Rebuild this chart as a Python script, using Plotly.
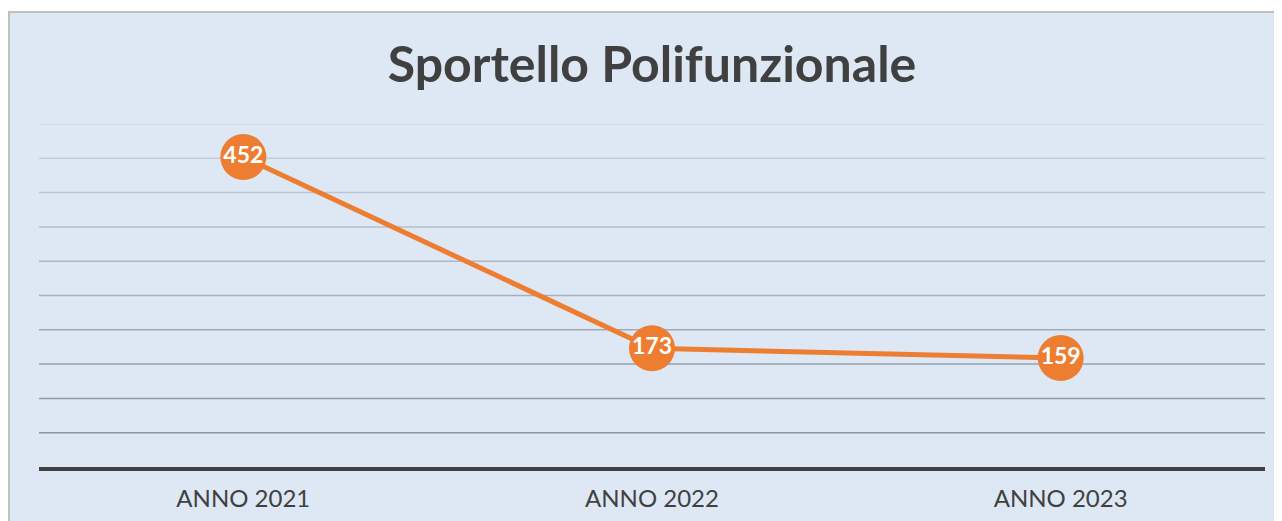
import plotly.graph_objects as go

categories = ["ANNO 2021", "ANNO 2022", "ANNO 2023"]
values = [452, 173, 159]
labels = ["452", "173", "159"]
title_text = "Sportello Polifunzionale"
grid_values = [50, 100, 150, 200, 250, 300, 350, 400, 450, 500]

ORANGE = "#ed7d31"
PANEL = "#dde8f4"
DARK = "#404040"

fig = go.Figure()
fig.add_trace(go.Scatter(
    x=categories, y=values, mode="lines+markers+text",
    text=labels, textposition="middle center",
    textfont=dict(family="Lato", size=23, color="white", weight="bold"),
    line=dict(color=ORANGE, width=5),
    marker=dict(color=ORANGE, size=46, line=dict(width=0)),
    cliponaxis=False, hoverinfo="skip", showlegend=False,
))

# page has an 8px body margin: figure origin sits at page (8, 8)
OFF = 8
W, H = 1282 - OFF, 521 - OFF
L, T = 39 - OFF, 124 - OFF
pw, ph = 1226, 343
R, B = W - L - pw, H - T - ph

def px_x(x):
    return (x - OFF - L) / pw

def px_y(y):
    return (T + ph - (y - OFF)) / ph

shapes = [dict(type="rect", xref="paper", yref="paper", layer="below",
               x0=px_x(9), x1=px_x(1300), y0=px_y(12), y1=px_y(540),
               fillcolor=PANEL, line=dict(color="#c0c0c0", width=2))]

top_c = (0xcb, 0xd4, 0xde)
bot_c = (0x88, 0x94, 0xa0)
n = len(grid_values)
for i, gv in enumerate(grid_values):
    t = (n - 1 - i) / (n - 1)
    c = tuple(round(top_c[k] + (bot_c[k] - top_c[k]) * t) for k in range(3))
    shapes.append(dict(type="line", xref="paper", yref="y", layer="below",
                       x0=0, x1=1, y0=gv, y1=gv,
                       line=dict(color="rgb(%d,%d,%d)" % c, width=1.5)))

fig.update_layout(
    width=W, height=H,
    margin=dict(l=L, r=R, t=T, b=B, autoexpand=False),
    paper_bgcolor="white", plot_bgcolor="rgba(0,0,0,0)",
    shapes=shapes,
    title=dict(text=title_text, x=0.5, xanchor="center", xref="paper",
               y=(H - (64 - OFF)) / H, yanchor="middle", yref="container",
               font=dict(family="Lato", size=50, color=DARK, weight="bold")),
    xaxis=dict(type="category", range=[-0.5, 2.5], showgrid=False,
               showline=True, linecolor=DARK, linewidth=4, automargin=False,
               ticks="", ticklabelstandoff=7,
               tickfont=dict(family="Lato", size=24, color=DARK)),
    yaxis=dict(range=[0, 500], showgrid=False, zeroline=False, automargin=False,
               showticklabels=False, showline=False),
)

fig.write_html("out.html")
